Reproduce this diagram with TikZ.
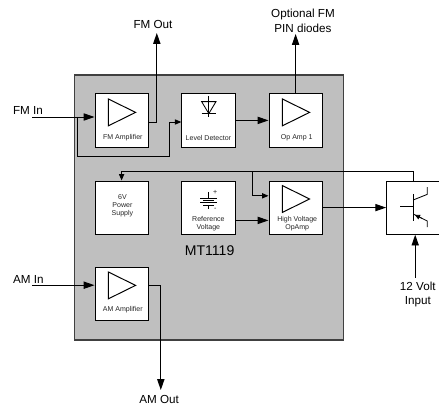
\documentclass[tikz,border=0pt]{standalone}
\usepackage{fontspec}
\setmainfont{Liberation Sans}
\usetikzlibrary{arrows.meta}
\tikzset{
	chipbox/.style = {draw = black!75, fill = black!25, line width = 0.8 pt, minimum width = 6.73 cm, minimum height = 6.625 cm, inner sep = 0},
	blockbox/.style = {draw, fill = white, line width = 0.7 pt, minimum width = 1.33 cm, minimum height = 1.33 cm, inner sep = 0},
	biglabel/.style = {font = \fontsize{8.3}{10.3}\selectfont, align = center, inner sep = 0},
	smalllabel/.style = {font = \fontsize{5}{5.7}\selectfont, align = center, inner sep = 0, text = black!85},
	bigarrow/.style = {line width = 0.7 pt, -{Triangle[length=2.7mm, width=1.8mm]}},
	smallarrow/.style = {line width = 0.7 pt, -{Triangle[length=1.6mm, width=1.3mm]}},
	wire/.style = {line width = 0.7 pt},
	symbol/.style = {line width = 0.6 pt}
}
\begin{document}
\begin{tikzpicture}
	 \useasboundingbox (0, 0) rectangle (10.975, 10.1);

	 \node[chipbox] (chip) at (5.225, 4.9125) {};
	 \node[biglabel, font = \fontsize{10}{12}\selectfont] (chipname) at (5.24, 3.825) {MT1119};

	 \node[blockbox] (fmamp) at (3.04, 7.09) {};
	 \node[blockbox] (level) at (5.21, 7.09) {};
	 \node[blockbox] (opamp) at (7.39, 7.09) {};
	 \node[blockbox] (power) at (3.04, 4.91) {};
	 \node[blockbox] (refv) at (5.21, 4.91) {};
	 \node[blockbox] (hvamp) at (7.39, 4.91) {};
	 \node[blockbox] (amamp) at (3.04, 2.76) {};
	 \node[blockbox] (driver) at (10.33, 4.91) {};

	 \node[smalllabel] (fmamptext) at (3.07, 6.66) {FM Amplifier};
	 \node[smalllabel] (leveltext) at (5.21, 6.66) {Level Detector};
	 \node[smalllabel] (opamptext) at (7.42, 6.66) {Op Amp 1};
	 \node[smalllabel] (powertext) at (3.06, 4.96) {6V\\Power\\Supply};
	 \node[smalllabel] (refvtext) at (5.21, 4.52) {Reference\\Voltage};
	 \node[smalllabel] (hvamptext) at (7.43, 4.51) {High Voltage\\OpAmp};
	 \node[smalllabel] (amamptext) at (3.07, 2.36) {AM Amplifier};

	 \node[biglabel] (fmin) at (0.7, 7.35) {FM In};
	 \node[biglabel] (amin) at (0.71, 3.125) {AM In};
	 \node[biglabel] (fmout) at (3.825, 9.49) {FM Out};
	 \node[biglabel] (pindiodes) at (7.575, 9.575) {Optional FM\\PIN diodes};
	 \node[biglabel] (amout) at (3.98, 0.115) {AM Out};
	 \node[biglabel] (volt12) at (10.445, 2.74) {12 Volt\\Input};

	 \coordinate (fmstart) at (0.81, 7.175);
	 \coordinate (amstart) at (0.81, 2.97);
	 \coordinate (fmtap) at (1.93, 7.175);
	 \coordinate (fmbend) at (4.235, 6.2);
	 \coordinate (fmtip) at (3.92, 9.275);
	 \coordinate (pintip) at (7.39, 9.25);
	 \coordinate (amtip) at (4.02, 0.35);
	 \coordinate (supply) at (10.38, 3.16);
	 \coordinate (fbtop) at (6.32, 5.81);

	 \draw[bigarrow] (fmstart) -- (fmstart -| fmamp.west);
	 \draw[smallarrow] (fmtap) |- (fmbend) |- ([yshift = -0.04 cm]level.west);
	 \draw[bigarrow] ([yshift = -0.04 cm]fmamp.east) -| (fmtip);
	 \draw[bigarrow] (level) -- (opamp);
	 \draw[bigarrow] (opamp.north) -- (pintip);
	 \draw[bigarrow] (amstart) -- (amstart -| amamp.west);
	 \draw[bigarrow] (amstart -| amamp.east) -| (amtip);

	 \draw[wire] (driver.north) |- (fbtop);
	 \draw[smallarrow] (fbtop) -| (power.north);
	 \draw[smallarrow] (fbtop) |- ([yshift = 0.295 cm]hvamp.west);
	 \draw[bigarrow] ([yshift = -0.32 cm]refv.east) -- ([yshift = -0.32 cm]hvamp.west);
	 \draw[bigarrow] (hvamp) -- (driver);
	 \draw[bigarrow] (supply) -- (supply |- driver.south);

	 % amplifier triangles
	 \foreach \x/\y in {2.71/7.625, 7.06/7.625, 7.06/5.46, 2.71/3.3}
	 \draw[symbol, line width = 0.7 pt] (\x, \y) -- ++(0.68, -0.335) -- ++(-0.68, -0.335) -- cycle;

	 % diode
	 \draw[symbol] (5.22, 7.7) -- (5.22, 7.175);
	 \draw[symbol] (5.04, 7.56) -- (5.40, 7.56) -- (5.22, 7.26) -- cycle;
	 \draw[symbol] (5.04, 7.26) -- (5.40, 7.26);

	 % battery
	 \draw[symbol] (5.22, 5.3) -- (5.22, 5.15);
	 \draw[symbol] (5.0, 5.15) -- (5.43, 5.15);
	 \draw[symbol] (5.08, 5.10) -- (5.35, 5.10);
	 \draw[symbol] (5.0, 5.05) -- (5.43, 5.05);
	 \draw[symbol] (5.08, 4.975) -- (5.35, 4.975);
	 \draw[symbol] (5.22, 4.975) -- (5.22, 4.875);
	 \node[smalllabel] (plus) at (5.38, 5.29) {+};
	 \node[smalllabel] (minus) at (5.38, 4.875) {-};

	 % transistor
	 \draw[symbol] (10.0, 4.93) -- (10.33, 4.93);
	 \draw[symbol] (10.33, 5.25) -- (10.33, 4.58);
	 \draw[symbol] (10.33, 5.1) -- (10.68, 5.24) -- (10.68, 5.42);
	 \draw[symbol] (10.68, 4.42) -- (10.68, 4.575) -- (10.33, 4.75);
	 \draw[symbol, -{Triangle[length=1.3mm, width=1.2mm]}] (10.55, 4.64) -- (10.37, 4.73);
\end{tikzpicture}
\end{document}
